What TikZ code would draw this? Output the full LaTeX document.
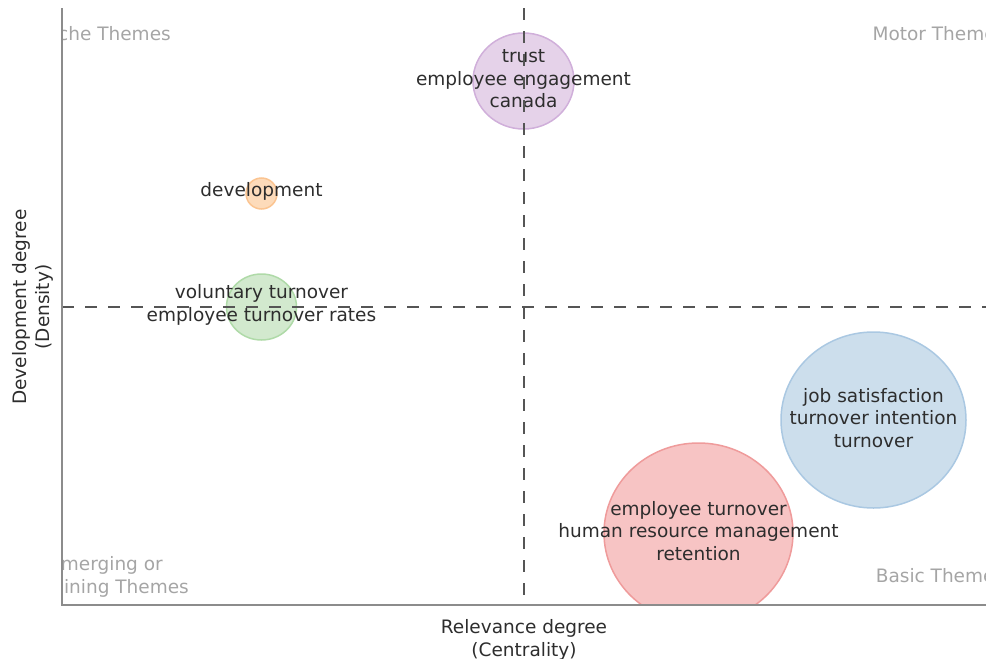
\documentclass[tikz,border=0pt]{standalone}
\usepackage{fontspec}
\setmainfont{DejaVu Sans}
\usetikzlibrary{shapes.geometric}
\definecolor{inkgray}{RGB}{45,45,45}
\definecolor{quadgray}{RGB}{165,165,165}
\definecolor{axisgray}{RGB}{140,140,140}
\definecolor{splitgray}{RGB}{85,85,85}
\definecolor{purplefill}{RGB}{229,210,233}
\definecolor{purpleline}{RGB}{208,175,218}
\definecolor{orangefill}{RGB}{253,219,186}
\definecolor{orangeline}{RGB}{251,196,145}
\definecolor{greenfill}{RGB}{210,233,206}
\definecolor{greenline}{RGB}{175,218,168}
\definecolor{bluefill}{RGB}{204,222,236}
\definecolor{blueline}{RGB}{170,200,226}
\definecolor{redfill}{RGB}{247,196,196}
\definecolor{redline}{RGB}{239,155,155}

\begin{document}
\begin{tikzpicture}[x=1pt,y=-1pt,
    bubble/.style={ellipse,inner sep=0pt,line width=1.5pt},
    words/.style={align=center,text=inkgray,font=\fontsize{18.5}{22.5}\selectfont},
    inside/.style={words,yshift=2pt},
    quadrant/.style={align=center,text=quadgray,font=\fontsize{18.5}{22.5}\selectfont},
    axis/.style={draw=axisgray,line width=1.6pt},
    split/.style={draw=splitgray,line width=2pt,dash pattern=on 12pt off 11pt}]
  \useasboundingbox (0,0) rectangle (986,659);

  \coordinate (origin) at (62,605);
  \coordinate (y-end) at (62,8);
  \coordinate (x-end) at (986,605);
  \coordinate (v-top) at (524,8);
  \coordinate (v-bottom) at (524,605);
  \coordinate (h-left) at (62,307);
  \coordinate (h-right) at (986,307);

  \begin{scope}
    \clip (origin) rectangle (986,0);
    \node[bubble,fill=purplefill,draw=purpleline,minimum width=101pt,minimum height=96pt] (trust) at (523.5,81) {};
    \node[bubble,fill=orangefill,draw=orangeline,minimum width=31pt,minimum height=31pt] (development) at (261.5,193.5) {};
    \node[bubble,fill=greenfill,draw=greenline,minimum width=70pt,minimum height=66pt] (voluntary) at (261.5,307) {};
    \node[bubble,fill=bluefill,draw=blueline,minimum width=185pt,minimum height=176pt] (satisfaction) at (873.5,420) {};
    \node[bubble,fill=redfill,draw=redline,minimum width=189pt,minimum height=180pt] (retention) at (698.5,533) {};

    \node[quadrant] (niche) at (105,34) {Niche Themes};
    \node[quadrant] (motor) at (939,34) {Motor Themes};
    \node[quadrant] (emerging) at (106,577) {Emerging or\\Declining Themes};
    \node[quadrant] (basic) at (940,576) {Basic Themes};
  \end{scope}

  \node[inside] (trust-text) at (trust) {trust\\employee engagement\\canada};
  \node[inside] (development-text) at (development) {development};
  \node[inside] (voluntary-text) at (voluntary) {voluntary turnover\\employee turnover rates};
  \node[inside] (satisfaction-text) at (satisfaction) {job satisfaction\\turnover intention\\turnover};
  \node[inside] (retention-text) at (retention) {employee turnover\\human resource management\\retention};

  \draw[split] (v-top) -- (v-bottom);
  \draw[split] (h-left) -- (h-right);
  \draw[axis] (y-end) -- (origin) -- (x-end);

  \node[words] (x-title) at (524,640) {Relevance degree\\(Centrality)};
  \node[words,rotate=90] (y-title) at (33,307) {Development degree\\(Density)};
\end{tikzpicture}
\end{document}
